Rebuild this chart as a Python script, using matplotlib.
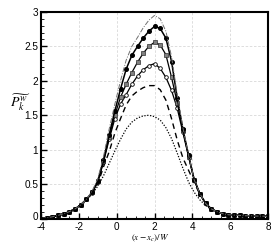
import matplotlib
matplotlib.use("Agg")
import matplotlib.pyplot as plt
from matplotlib.ticker import MultipleLocator
from matplotlib.transforms import ScaledTranslation

plt.rcParams['font.family'] = ['Liberation Sans', 'DejaVu Sans']
plt.rcParams['mathtext.fontset'] = 'stix'
plt.rcParams['axes.unicode_minus'] = False

x = [-4.0, -3.7, -3.4, -3.1, -2.8, -2.5, -2.2, -1.9, -1.6, -1.3, -1.0, -0.7, -0.4, -0.1,
     0.2, 0.5, 0.8, 1.1, 1.4, 1.7, 2.0, 2.3, 2.6, 2.9, 3.2, 3.5, 3.8, 4.1, 4.4, 4.7,
     5.0, 5.3, 5.6, 5.9, 6.2, 6.5, 6.8, 7.1, 7.4, 7.7, 8.0]

tail_left = [0.0, 0.01, 0.025, 0.045, 0.07, 0.10, 0.14, 0.20, 0.28]
tail_right = [0.14, 0.10, 0.07, 0.055, 0.05, 0.045, 0.04, 0.04, 0.035, 0.035, 0.03]

dashdot = tail_left + [0.40, 0.58, 0.90, 1.30, 1.66, 2.00, 2.30, 2.50, 2.63, 2.77, 2.88,
                       2.95, 2.90, 2.72, 2.35, 1.80, 1.32, 0.92, 0.56, 0.36, 0.22] + tail_right
filled_circles = tail_left + [0.38, 0.55, 0.85, 1.22, 1.56, 1.88, 2.17, 2.37, 2.50, 2.62, 2.72,
                              2.79, 2.76, 2.62, 2.28, 1.75, 1.30, 0.92, 0.56, 0.36, 0.22] + tail_right
squares = tail_left + [0.38, 0.54, 0.83, 1.18, 1.50, 1.76, 1.95, 2.12, 2.27, 2.40, 2.50,
                       2.56, 2.52, 2.38, 2.05, 1.68, 1.28, 0.90, 0.56, 0.36, 0.22] + tail_right
open_circles = tail_left + [0.37, 0.53, 0.82, 1.15, 1.45, 1.66, 1.80, 1.95, 2.07, 2.16, 2.22,
                            2.25, 2.18, 2.05, 1.86, 1.60, 1.25, 0.90, 0.56, 0.36, 0.22] + tail_right
dashed = tail_left + [0.36, 0.50, 0.75, 0.97, 1.24, 1.45, 1.65, 1.78, 1.85, 1.90, 1.93,
                      1.93, 1.87, 1.72, 1.45, 1.14, 0.88, 0.70, 0.52, 0.35, 0.22] + tail_right
dotted = [0.0, 0.01, 0.02, 0.04, 0.06, 0.09, 0.13, 0.19, 0.26, 0.36, 0.47, 0.62, 0.80, 0.98,
          1.15, 1.30, 1.40, 1.46, 1.49, 1.50, 1.48, 1.43, 1.32, 1.16, 0.95, 0.73, 0.53, 0.38,
          0.27, 0.19, 0.13, 0.10, 0.07, 0.055, 0.05, 0.045, 0.04, 0.04, 0.035, 0.035, 0.03]

xticks = [-4, -2, 0, 2, 4, 6, 8]
yticks = [0, 0.5, 1, 1.5, 2, 2.5, 3]
ytick_labels = ['0', '0.5', '1', '1.5', '2', '2.5', '3']

fig = plt.figure(figsize=(2.74, 2.44), dpi=100)
ax = fig.add_axes([0.150, 0.1045, 0.828, 0.8465])

ax.plot(x, dotted, color='black', lw=0.9, ls=(0, (1, 1.3)))
ax.plot(x, dashed, color='black', lw=1.0, ls=(0, (4, 3)))
ax.plot(x, open_circles, color='black', lw=0.9, marker='o', ms=2.6,
        mfc='white', mec='black', mew=0.6)
ax.plot(x, squares, color='black', lw=0.9, marker='s', ms=2.4,
        mfc='#808080', mec='#303030', mew=0.5)
ax.plot(x, filled_circles, color='black', lw=1.1, marker='o', ms=2.6,
        mfc='black', mec='black')
ax.plot(x, dashdot, color='#707070', lw=0.7, ls=(0, (5, 1.5, 1, 1.5)))

ax.set_xlim(-4, 8)
ax.set_ylim(0, 3)
ax.set_xticks(xticks)
ax.set_yticks(yticks)
ax.set_yticklabels(ytick_labels)
ax.xaxis.set_minor_locator(MultipleLocator(0.5))
ax.yaxis.set_minor_locator(MultipleLocator(0.1))
ax.tick_params(which='both', direction='in', top=False, right=False, labelsize=7.2)
ax.tick_params(axis='x', pad=2.5)
ax.tick_params(axis='y', pad=2)
ax.tick_params(which='major', length=4, width=1.0)
ax.tick_params(which='minor', length=2, width=0.6)
ax.grid(True, which='major', color='#d8d8d8', ls=(0, (3, 2)), lw=0.6)
ax.set_axisbelow(True)
for s in ax.spines.values():
    s.set_linewidth(1.5)

lab0 = ax.get_yticklabels()[0]
lab0.set_transform(lab0.get_transform() + ScaledTranslation(0, 2.0 / 72, fig.dpi_scale_trans))

fig.text(0.55, 0.022, r'$(x-x_c)/W$', fontsize=6.5, ha='center', va='center')
fig.text(0.075, 0.58, r'$\widetilde{P_k^{w}}$', fontsize=10, ha='center', va='center')

fig.savefig('out.png', dpi=100)
